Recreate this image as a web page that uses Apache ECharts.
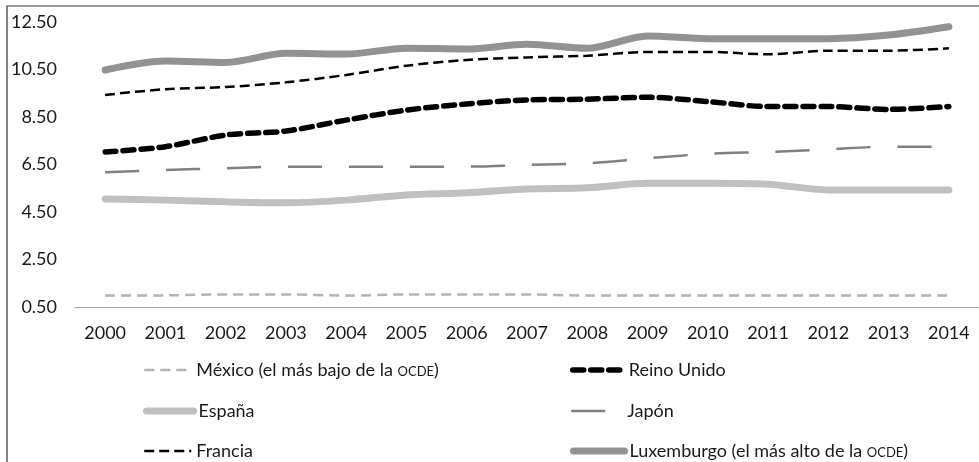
<!DOCTYPE html>
<html>
<head>
<meta charset="utf-8">
<script src="https://cdn.jsdelivr.net/npm/echarts@6/dist/echarts.min.js"></script>
<style>
html, body { margin: 0; padding: 0; background: #fff; }
#chart { width: 979px; height: 462px; }
</style>
</head>
<body>
<div id="chart"></div>
<script>
var years = ['2000','2001','2002','2003','2004','2005','2006','2007','2008','2009','2010','2011','2012','2013','2014'];
var yTicks = [0.5, 2.5, 4.5, 6.5, 8.5, 10.5, 12.5];

var mexico     = [0.98,0.99,1.03,1.03,0.98,1.03,1.03,1.03,0.98,0.98,0.98,0.98,0.98,0.98,0.98];
var reinoUnido = [7.03,7.25,7.74,7.91,8.37,8.79,9.05,9.22,9.25,9.33,9.15,8.94,8.94,8.82,8.94];
var espana     = [5.05,5.00,4.93,4.89,5.00,5.22,5.31,5.47,5.52,5.71,5.71,5.67,5.43,5.43,5.43];
var japon      = [6.17,6.27,6.34,6.41,6.41,6.41,6.41,6.48,6.55,6.76,6.95,7.03,7.14,7.25,7.25];
var francia    = [9.43,9.67,9.76,9.96,10.27,10.66,10.90,11.01,11.08,11.24,11.24,11.14,11.29,11.29,11.39];
var luxemburgo = [10.48,10.86,10.80,11.18,11.15,11.40,11.36,11.56,11.39,11.91,11.80,11.80,11.80,11.95,12.30];

var names = {
  mx: 'México (el más bajo de la OCDE)',
  uk: 'Reino Unido',
  es: 'España',
  jp: 'Japón',
  fr: 'Francia',
  lu: 'Luxemburgo (el más alto de la OCDE)'
};

var font = 'Lato';

// "OCDE" en versalitas
function legendFmt(name) {
  return name.replace('OCDE', '{sc|OCDE}');
}

var legendText = {
  color: '#1a1a1a',
  fontFamily: font,
  fontSize: 18,
  lineHeight: 20,
  rich: { sc: { fontFamily: font, fontSize: 13, verticalAlign: 'middle', padding: [4, 0, 0, 0], color: '#1a1a1a' } }
};

// una leyenda por entrada, en dos columnas
function legendItem(name, left, top, w, lw) {
  return {
    orient: 'vertical',
    left: left, top: top,
    padding: 0,
    itemWidth: w, itemHeight: 14,
    data: [name],
    formatter: legendFmt,
    textStyle: legendText,
    itemStyle: { opacity: 0 },
    lineStyle: { width: lw }
  };
}

function line(name, data, color, width, dash, cap) {
  return {
    name: name,
    type: 'line',
    data: data,
    smooth: 0.3,
    symbol: 'none',
    lineStyle: { color: color, width: width, type: dash, cap: cap || 'butt' },
    itemStyle: { color: color }
  };
}

var chart = echarts.init(document.getElementById('chart'));
var option = {
  animation: false,
  backgroundColor: '#fff',
  graphic: [{
    type: 'rect',
    shape: { x: 7, y: 6, width: 1000, height: 500 },
    style: { fill: 'none', stroke: '#333', lineWidth: 1.2 },
    silent: true
  }],
  grid: { left: 75, right: -6, top: 22, bottom: 155 },
  legend: [
    legendItem(names.mx, 143, 360, 47, 2.5),
    legendItem(names.es, 143, 401, 47, 7),
    legendItem(names.fr, 143, 441, 47, 2.5),
    legendItem(names.uk, 570, 360, 51, 5.5),
    legendItem(names.jp, 570, 401, 51, 2.5),
    legendItem(names.lu, 570, 441, 51, 7)
  ],
  xAxis: {
    type: 'category',
    data: years,
    boundaryGap: true,
    axisLine: { lineStyle: { color: '#a6a6a6', width: 1 } },
    axisTick: { show: false },
    axisLabel: { color: '#1a1a1a', fontFamily: font, fontSize: 18, margin: 17 }
  },
  yAxis: {
    type: 'value',
    min: yTicks[0],
    max: yTicks[yTicks.length - 1],
    interval: 2,
    axisLine: { show: false },
    axisTick: { show: false },
    splitLine: { show: false },
    axisLabel: {
      color: '#1a1a1a', fontFamily: font, fontSize: 18, margin: 18,
      formatter: function (v) { return v.toFixed(2); }
    }
  },
  series: [
    line(names.mx, mexico, '#b4b4b4', 2.5, [10, 6]),
    line(names.uk, reinoUnido, '#000000', 5.5, [11, 7], 'round'),
    line(names.es, espana, '#c0c0c0', 7, 'solid', 'round'),
    line(names.jp, japon, '#808080', 2.5, [34, 27]),
    line(names.fr, francia, '#000000', 2.5, [10, 5]),
    line(names.lu, luxemburgo, '#929292', 7, 'solid', 'round')
  ]
};
chart.setOption(option);
window.onresize = chart.resize;
</script>
</body>
</html>
